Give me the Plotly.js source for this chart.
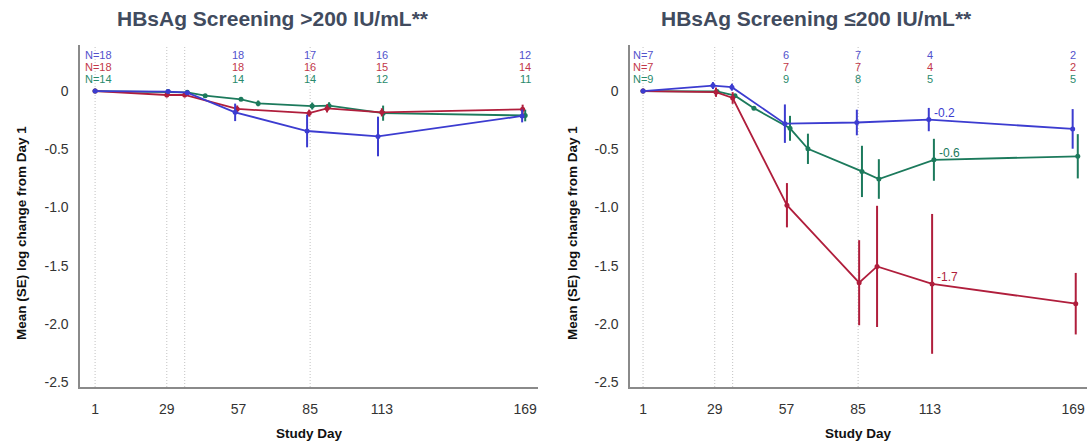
<!DOCTYPE html>
<html>
<head>
<meta charset="utf-8">
<script src="https://cdn.plot.ly/plotly-3.0.1.min.js"></script>
<style>html,body{margin:0;padding:0;background:#fff;}#chart{width:1091px;height:444px;}</style>
</head>
<body>
<div id="chart"></div>
<script>
// ---------- Data ----------
const panelTitles = ["HBsAg Screening >200 IU/mL**", "HBsAg Screening \u2264200 IU/mL**"];
const xTickVals = [1, 29, 57, 85, 113, 169];
const yTickVals = [0, -0.5, -1.0, -1.5, -2.0, -2.5];
const yTickText = ["0", "-0.5", "-1.0", "-1.5", "-2.0", "-2.5"];
const refDays = [1, 29, 36, 85];
const nDays = [1, 57, 85, 113, 169];

// Left panel (>200 IU/mL)
const leftBlueX = [1, 29.5, 37, 55.7, 83.8, 111.5, 167.8];
const leftBlueY = [0, -0.005, -0.014, -0.183, -0.343, -0.39, -0.214];
const leftBlueE = [0, 0.01, 0.01, 0.075, 0.14, 0.17, 0.055];
const leftRedX = [1, 29, 36, 56.5, 84.6, 91.6, 113, 168];
const leftRedY = [0, -0.034, -0.034, -0.154, -0.19, -0.149, -0.183, -0.157];
const leftRedE = [0, 0.02, 0.02, 0.03, 0.03, 0.035, 0.035, 0.04];
const leftGreenX = [1, 29.5, 37, 44, 58, 64.7, 85.8, 92.4, 113.5, 169];
const leftGreenY = [0, -0.005, -0.011, -0.04, -0.071, -0.106, -0.129, -0.126, -0.19, -0.21];
const leftGreenE = [0, 0, 0, 0, 0, 0.025, 0.03, 0.03, 0.065, 0.05];
const leftNBlue = ["N=18", "18", "17", "16", "12"];
const leftNRed = ["N=18", "18", "16", "15", "14"];
const leftNGreen = ["N=14", "14", "14", "12", "11"];

// Right panel (<=200 IU/mL)
const rightBlueX = [1, 28.3, 35.7, 56.4, 84.5, 112.6, 168.8];
const rightBlueY = [0, 0.047, 0.033, -0.28, -0.27, -0.245, -0.325];
const rightBlueE = [0, 0.03, 0.03, 0.165, 0.11, 0.10, 0.17];
const rightRedX = [1, 29.5, 36, 57.2, 85.4, 92.4, 113.9, 170];
const rightRedY = [0, -0.01, -0.06, -0.98, -1.645, -1.505, -1.655, -1.825];
const rightRedE = [0, 0.04, 0.05, 0.19, 0.365, 0.52, 0.60, 0.264];
const rightGreenX = [1, 29.9, 36.9, 44.3, 58.4, 65.4, 86.5, 93.1, 114.6, 170.8];
const rightGreenY = [0, -0.004, -0.04, -0.147, -0.32, -0.496, -0.69, -0.755, -0.59, -0.56];
const rightGreenE = [0, 0, 0, 0, 0.107, 0.13, 0.22, 0.17, 0.18, 0.19];
const rightNBlue = ["N=7", "6", "7", "4", "2"];
const rightNRed = ["N=7", "7", "7", "4", "2"];
const rightNGreen = ["N=9", "9", "8", "5", "5"];
const valueLabels = [
  {series: "blue", day: 112.6, value: -0.245, text: "-0.2"},
  {series: "green", day: 114.6, value: -0.59, text: "-0.6"},
  {series: "red", day: 113.9, value: -1.655, text: "-1.7"}
];

// ---------- Styles ----------
const COL = {blue: "#3c3cd0", red: "#b01e3c", green: "#1c7a5c"};
const NCOL = {blue: "#5252cc", red: "#c2384a", green: "#2a8a6c"};
const FONT = "Liberation Sans, Arial, sans-serif";

function series(x, y, e, color, xa, ya) {
  return {
    type: "scatter", mode: "lines+markers", x: x, y: y,
    xaxis: xa, yaxis: ya,
    line: {color: color, width: 1.8},
    marker: {color: color, size: 5},
    error_y: {type: "data", array: e, visible: true, color: color, thickness: 2, width: 0},
    showlegend: false, hoverinfo: "x+y"
  };
}

const traces = [
  series(leftGreenX, leftGreenY, leftGreenE, COL.green, "x", "y"),
  series(leftRedX, leftRedY, leftRedE, COL.red, "x", "y"),
  series(leftBlueX, leftBlueY, leftBlueE, COL.blue, "x", "y"),
  series(rightGreenX, rightGreenY, rightGreenE, COL.green, "x2", "y2"),
  series(rightRedX, rightRedY, rightRedE, COL.red, "x2", "y2"),
  series(rightBlueX, rightBlueY, rightBlueE, COL.blue, "x2", "y2")
];

const W = 1091, H = 444;
const xAxisBase = {
  range: [-4.9, 174], tickvals: xTickVals, ticks: "outside", ticklen: 9,
  tickcolor: "rgba(0,0,0,0)", showgrid: false, zeroline: false,
  showline: true, linecolor: "#8a8a8a", linewidth: 1.6,
  tickfont: {family: FONT, size: 14, color: "#333"}, fixedrange: true
};
const yAxisBase = {
  range: [-2.54, 0.395], tickvals: yTickVals, ticktext: yTickText,
  ticks: "outside", ticklen: 7, tickcolor: "rgba(0,0,0,0)",
  showgrid: false, zeroline: false, showline: true, linecolor: "#8a8a8a", linewidth: 1.6,
  tickfont: {family: FONT, size: 14, color: "#333"}, domain: [1 - 387 / H, 1 - 45 / H], fixedrange: true
};

const shapes = [];
["x", "x2"].forEach(function (xa) {
  refDays.forEach(function (d) {
    shapes.push({type: "line", xref: xa, yref: "paper", x0: d, x1: d,
      y0: 1 - 387 / H, y1: 1 - 45 / H, line: {color: "#c2c2c2", width: 1, dash: "1px,2px"}, layer: "below"});
  });
});

const annotations = [];
// Panel titles
[[273, panelTitles[0]], [816, panelTitles[1]]].forEach(function (p) {
  annotations.push({xref: "paper", yref: "paper", x: p[0] / W, y: 1 - 18 / H, text: "<b>" + p[1] + "</b>",
    showarrow: false, xanchor: "center", yanchor: "middle", font: {family: FONT, size: 21, color: "#414b5e"}});
});
// Axis titles
[309, 858].forEach(function (cx) {
  annotations.push({xref: "paper", yref: "paper", x: cx / W, y: 1 - 433 / H, text: "<b>Study Day</b>",
    showarrow: false, xanchor: "center", yanchor: "middle", font: {family: FONT, size: 13.5, color: "#111"}});
});
[21, 572].forEach(function (cx) {
  annotations.push({xref: "paper", yref: "paper", x: cx / W, y: 1 - 233 / H, text: "<b>Mean (SE) log change from Day 1</b>",
    showarrow: false, textangle: -90, xanchor: "center", yanchor: "middle", font: {family: FONT, size: 13.5, color: "#111"}});
});
// N labels
function addN(xa, rows) {
  const rowY = [55, 67, 79];
  rows.forEach(function (r, ri) {
    r.labels.forEach(function (t, i) {
      const first = i === 0;
      annotations.push({xref: xa, yref: "paper", x: nDays[i], y: 1 - rowY[ri] / H, text: t, showarrow: false,
        xanchor: first ? "left" : "center", xshift: first ? -12 : 0, yanchor: "middle",
        font: {family: FONT, size: 11, color: NCOL[r.c]}});
    });
  });
}
addN("x", [{labels: leftNBlue, c: "blue"}, {labels: leftNRed, c: "red"}, {labels: leftNGreen, c: "green"}]);
addN("x2", [{labels: rightNBlue, c: "blue"}, {labels: rightNRed, c: "red"}, {labels: rightNGreen, c: "green"}]);
// Value labels
valueLabels.forEach(function (v) {
  annotations.push({xref: "x2", yref: "y2", x: v.day, y: v.value, text: v.text, showarrow: false,
    xanchor: "left", yanchor: "middle", xshift: 3, yshift: 7, font: {family: FONT, size: 12, color: COL[v.series]}});
});

const layout = {
  width: W, height: H, margin: {l: 0, r: 0, t: 0, b: 0},
  paper_bgcolor: "#fff", plot_bgcolor: "#fff",
  xaxis: Object.assign({}, xAxisBase, {domain: [80 / W, 538 / W], anchor: "y"}),
  yaxis: Object.assign({}, yAxisBase, {anchor: "x"}),
  xaxis2: Object.assign({}, xAxisBase, {domain: [630 / W, 1087 / W], range: [-4.1, 174.4], anchor: "y2"}),
  yaxis2: Object.assign({}, yAxisBase, {anchor: "x2"}),
  shapes: shapes, annotations: annotations, showlegend: false
};

Plotly.newPlot("chart", traces, layout, {displayModeBar: false, staticPlot: true});
</script>
</body>
</html>
